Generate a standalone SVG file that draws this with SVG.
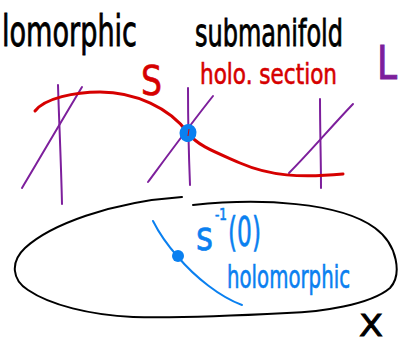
<svg xmlns="http://www.w3.org/2000/svg" width="398" height="338" viewBox="0 0 398 338">
<style>
.hand{font-family:"Liberation Sans Narrow","DejaVu Sans Condensed","Liberation Sans",sans-serif;}
.blk{fill:#000;stroke:#000;stroke-width:0.8}
.red{fill:#d60000;stroke:#d60000;stroke-width:0.6}
.blu{fill:#0a80f0;stroke:#0a80f0;stroke-width:0.6}
.pur{fill:#7d1f9c;stroke:#7d1f9c;stroke-width:1}
.ln{fill:none;stroke-linecap:round;stroke-linejoin:round}
.pl{stroke:#7d1f9c;stroke-width:2}
</style>
<rect width="398" height="338" fill="#fff"/>
<g id="labels-top" class="hand">
<text class="blk" x="2" y="46" font-size="42" textLength="135" lengthAdjust="spacingAndGlyphs">lomorphic</text>
<text class="blk" x="195" y="46" font-size="38" textLength="148" lengthAdjust="spacingAndGlyphs">submanifold</text>
<text class="red" x="200" y="84" font-size="29" textLength="137" lengthAdjust="spacingAndGlyphs">holo. section</text>
<text class="red" x="141" y="95" font-size="40" textLength="21" lengthAdjust="spacingAndGlyphs">S</text>
<text class="pur" x="377" y="79" font-size="46" textLength="20" lengthAdjust="spacingAndGlyphs">L</text>
</g>
<g id="fibers" class="ln pl">
<path d="M58 85 C59 120 61 160 62 204"/>
<path d="M82 87 C62 120 40 158 22 188"/>
<path d="M188 88 C188 120 189 160 190 185"/>
<path d="M213 96 C190 125 168 155 148 182"/>
<path d="M320 99 C320 130 321 160 321 188"/>
<path d="M353 104 C330 128 310 152 289 173"/>
</g>
<g id="section">
<path class="ln" d="M35 111 C45 98 75 92 100 92 C135 92 170 108 188 133 C198 146 215 152 240 163 C270 176 300 178 343 174" stroke="#d60000" stroke-width="3"/>
<ellipse cx="188" cy="133" rx="8.5" ry="9" fill="#0a80f0" transform="rotate(20 188 133)"/>
<path d="M189 129 L188 136" stroke="#d60000" stroke-width="1"/>
</g>
<g id="base-X">
<path class="ln" d="M193 205 C260 198 340 202 375 228 C398 245 402 275 390 288 C370 305 320 312 287 313 C230 316 170 318 133 317 C90 315 50 305 28 290 C12 280 10 262 25 248 C50 225 110 202 182 197" stroke="#000" stroke-width="2"/>
<text class="hand blk" x="359" y="336" font-size="30" textLength="24" lengthAdjust="spacingAndGlyphs">X</text>
</g>
<g id="zero-set">
<path class="ln" d="M153 221 C160 235 170 248 178 257 C195 277 220 297 242 305" stroke="#0a80f0" stroke-width="2"/>
<circle cx="178" cy="256" r="6" fill="#0a80f0"/>
<g class="hand blu">
<text x="196" y="250" font-size="40" textLength="17" lengthAdjust="spacingAndGlyphs">s</text>
<text x="215" y="220" font-size="15" textLength="12" lengthAdjust="spacingAndGlyphs">-1</text>
<text x="228" y="246" font-size="40" textLength="33" lengthAdjust="spacingAndGlyphs">(0)</text>
<text x="227" y="288" font-size="32" textLength="123" lengthAdjust="spacingAndGlyphs">holomorphic</text>
</g>
</g>
</svg>
